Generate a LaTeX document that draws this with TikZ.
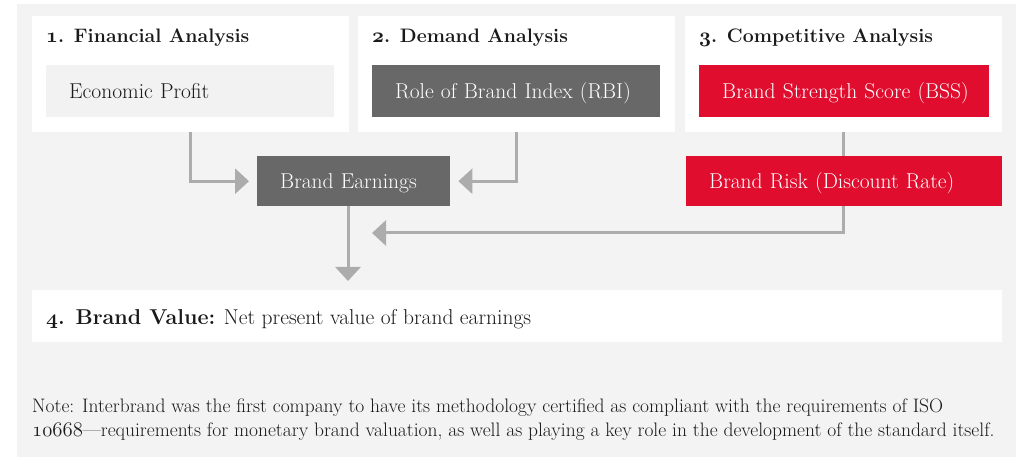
\documentclass[tikz,border=0pt]{standalone}
\usepackage{fontspec}
\setmainfont{Latin Modern Roman}
\usetikzlibrary{arrows.meta}
\definecolor{bgc}{HTML}{F3F3F3}
\definecolor{innerc}{HTML}{F2F2F2}
\definecolor{darkc}{HTML}{686868}
\definecolor{redc}{HTML}{E00D2E}
\definecolor{arrc}{HTML}{ACACAC}
\definecolor{txtc}{HTML}{1A1A1A}
\newcommand\osn[1]{{\fontencoding{OML}\fontfamily{cmm}\fontseries{m}\fontshape{it}\selectfont #1}}
\newcommand\osnb[1]{{\fontencoding{OML}\fontfamily{cmm}\fontseries{b}\fontshape{it}\selectfont #1}}
\begin{document}
\begin{tikzpicture}[x=1pt,y=-1pt,
  panel/.style={fill=white, anchor=north west, minimum width=317pt, minimum height=116pt, inner sep=0pt},
  ttl/.style={anchor=base west, inner sep=0pt, text=txtc, font=\fontsize{19.5}{22}\selectfont\bfseries},
  tbox/.style={anchor=north west, minimum height=52pt, inner sep=0pt, align=left,
     execute at begin node={\hspace*{23pt}},
     text height=18pt, text depth=3pt, font=\fontsize{21.5}{24}\selectfont},
  conn/.style={draw=arrc, line width=3pt},
  arr/.style={conn, -{Triangle[length=14pt,width=25pt]}}]
\useasboundingbox (0,0) rectangle (1021,457);
\fill[bgc] (17,4) rectangle (1016,457);
% panels
\node[panel] (p1) at (32,16) {};
\node[panel] (p2) at (358,16) {};
\node[panel] (p3) at (685,16) {};
\node[ttl] (t1) at (46,43) {\osnb{1}. Financial Analysis};
\node[ttl] (t2) at (372,43) {\osnb{2}. Demand Analysis};
\node[ttl] (t3) at (699,43) {\osnb{3}. Competitive Analysis};
\node[tbox, fill=innerc, text=txtc, text width=288pt] (ep) at (46,65) {Economic Profit};
\node[tbox, fill=darkc, text=white, text width=288pt] (rbi) at (372,65) {Role of Brand Index (RBI)};
\node[tbox, fill=redc, text=white, text width=290pt] (bss) at (699,65) {Brand Strength Score (BSS)};
\node[tbox, fill=darkc, text=white, minimum height=50pt, text width=193pt] (be) at (257,156) {Brand Earnings};
\node[tbox, fill=redc, text=white, minimum height=50pt, text width=316pt] (br) at (686,156) {Brand Risk (Discount Rate)};
\coordinate (rtip) at (372,233);
\coordinate (dtip) at (348,281);
% connectors
\draw[arr] (p1.south) |- ([xshift=-8pt]be.west);
\draw[arr] (p2.south) |- ([xshift=8pt]be.east);
\draw[conn] (p3.south) -- (p3.south |- br.north);
\draw[arr] (p3.south |- br.south) |- (rtip);
\draw[arr] (be.south -| dtip) -- (dtip);
% brand value
\node[fill=white, anchor=north west, minimum width=970pt, minimum height=52pt, inner sep=0pt] (bv) at (32,290) {};
\node[anchor=base west, inner sep=0pt, text=txtc, font=\fontsize{21.5}{24}\selectfont] (bvt) at (46,324) {\textbf{\osnb{4}. Brand Value:} Net present value of brand earnings};
% note
\node[anchor=base west, inner sep=0pt, align=left, text=txtc, font=\fontsize{19.5}{24}\selectfont] (note) at (32,436) {Note: Interbrand was the first company to have its methodology certified as compliant with the requirements of ISO\\\osn{10668}---requirements for monetary brand valuation, as well as playing a key role in the development of the standard itself.};
\end{tikzpicture}
\end{document}
